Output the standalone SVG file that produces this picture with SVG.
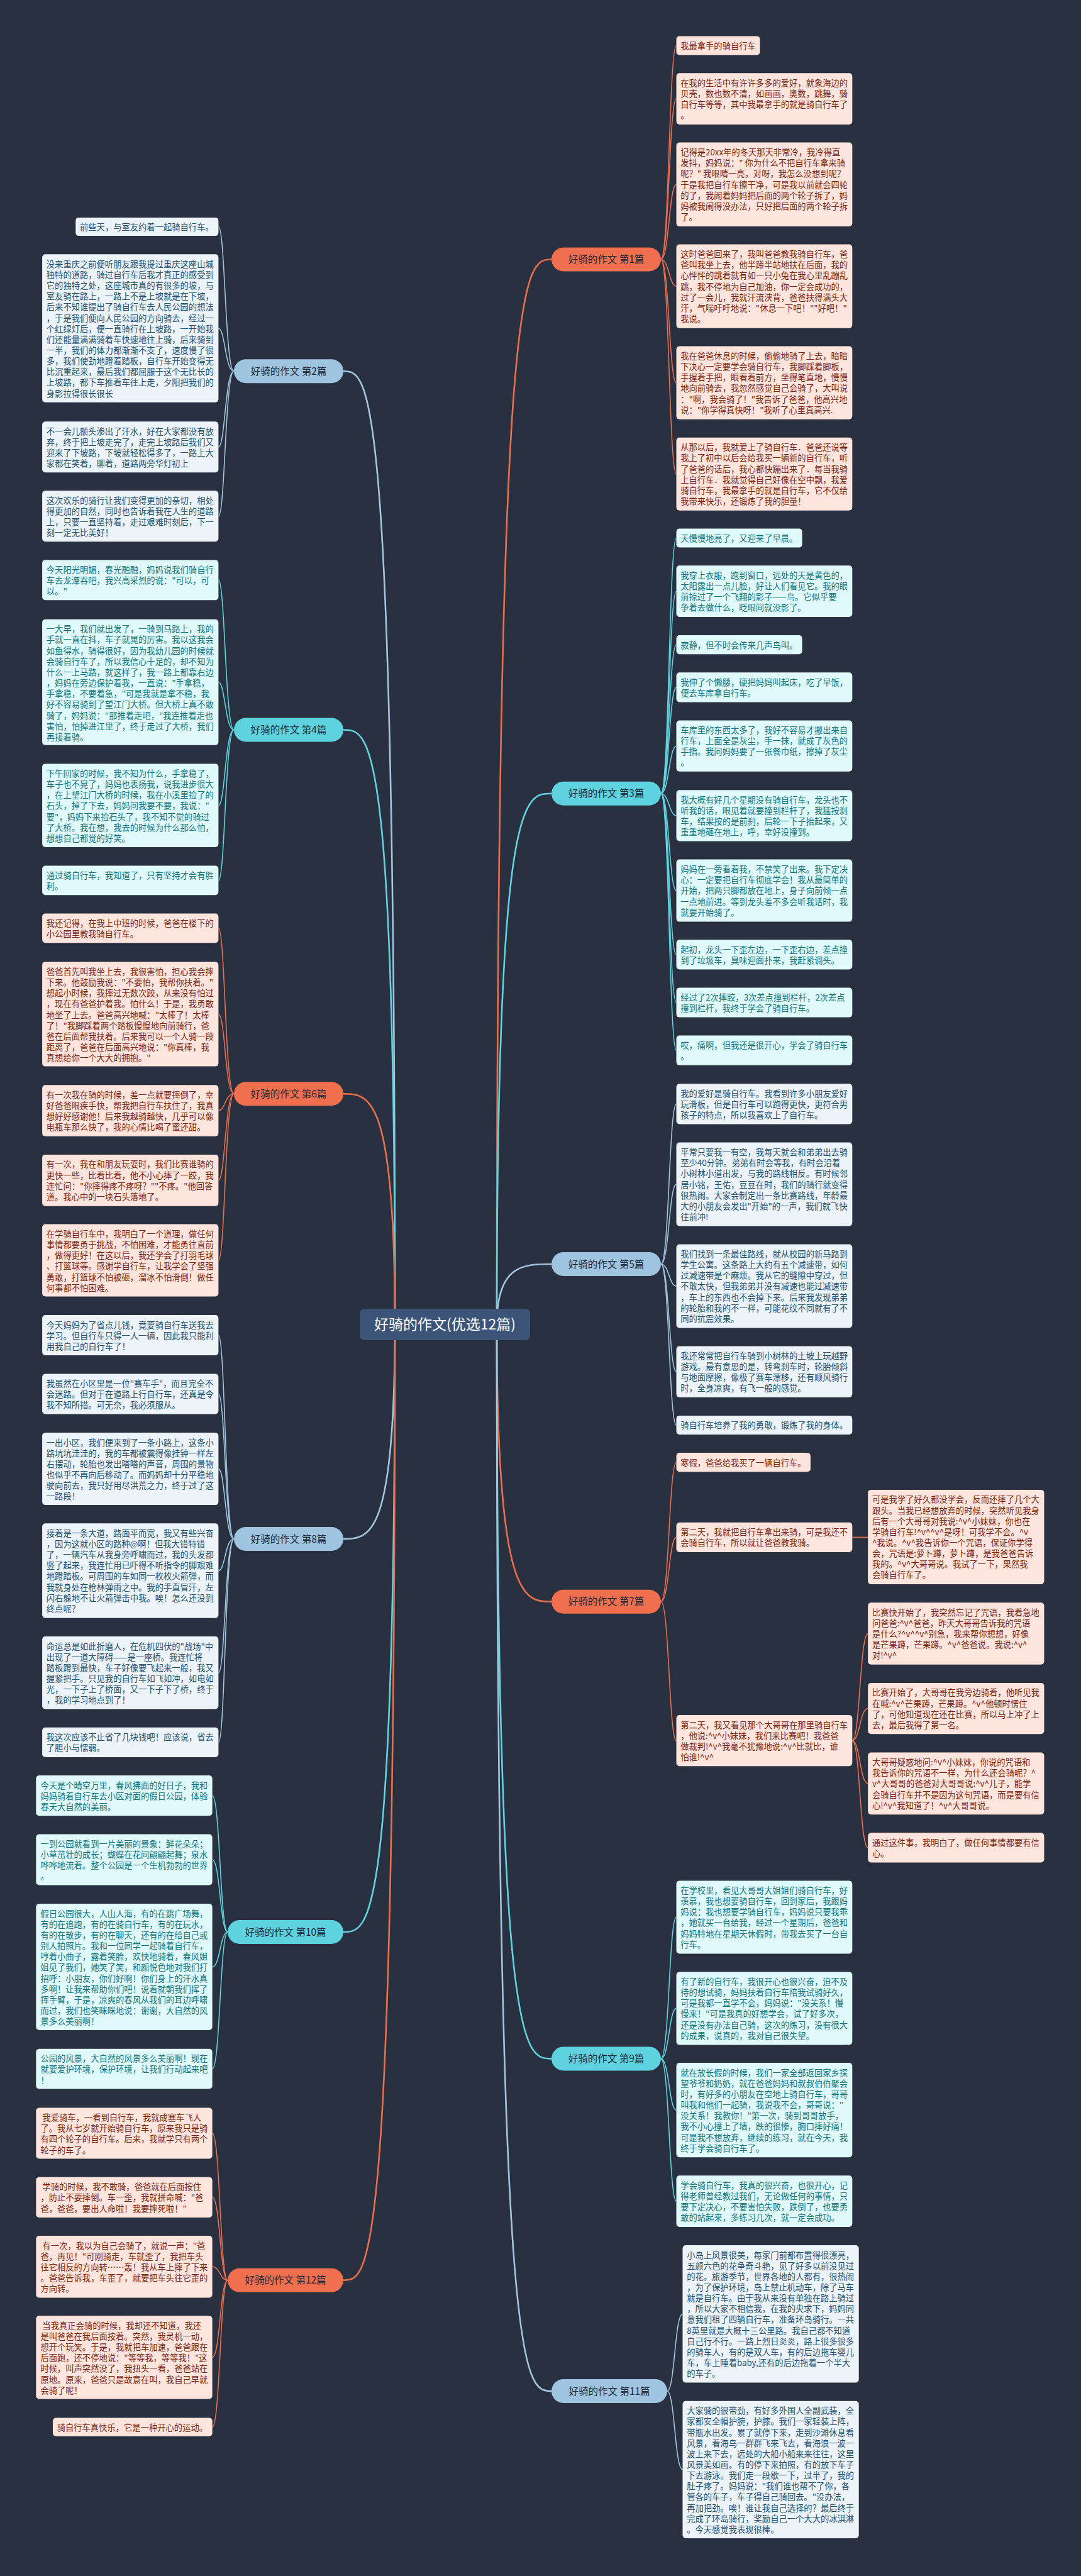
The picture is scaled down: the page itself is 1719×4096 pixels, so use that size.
<svg xmlns="http://www.w3.org/2000/svg" width="1719" height="4096" viewBox="0 0 1719 4096">
<style>
text{font-family:"Noto Sans CJK SC","Noto Sans",sans-serif;font-size:13.3px}
.o rect{fill:#fde4dc}.o text{fill:#7a2410}
.t rect{fill:#e0f9fb}.t text{fill:#0e7580}
.b rect{fill:#ecf3f9}.b text{fill:#22506f}
.n text{font-size:15.5px;text-anchor:middle;fill:#1f2a38}
.no rect{fill:#ef6f4f}.nt rect{fill:#5ed2df}.nb rect{fill:#9ec4df}
#links path{fill:none;stroke-width:1.6}
#links .m{stroke-width:2.6}
.co{stroke:#e9704f}.ct{stroke:#63d3e0}.cb{stroke:#a3c6e0}
</style>
<rect width="1719" height="4096" fill="#29303f"/>
<g id="links">
<path class="co m" d="M790,2106 C790,412.5 833.5,412.5 877,412.5"/>
<path class="ct m" d="M790,2106 C790,1261.7 833.5,1261.7 877,1261.7"/>
<path class="cb m" d="M790,2106 C790,2010 833.5,2010 877,2010"/>
<path class="co m" d="M790,2106 C790,2546.7 833.5,2546.7 877,2546.7"/>
<path class="ct m" d="M790,2106 C790,3273.4 833.5,3273.4 877,3273.4"/>
<path class="cb m" d="M790,2106 C790,3802 833.5,3802 877,3802"/>
<path class="cb m" d="M628,2106 C628,590.3 587,590.3 546,590.3"/>
<path class="ct m" d="M628,2106 C628,1160.5 587,1160.5 546,1160.5"/>
<path class="co m" d="M628,2106 C628,1739.3 587,1739.3 546,1739.3"/>
<path class="cb m" d="M628,2106 C628,2447 587,2447 546,2447"/>
<path class="ct m" d="M628,2106 C628,3072 587,3072 546,3072"/>
<path class="co m" d="M628,2106 C628,3625.7 587,3625.7 546,3625.7"/>
<!-- right 1 -->
<path class="co" d="M1051,412.5 C1064,412.5 1064,72.5 1075.5,72.5"/>
<path class="co" d="M1051,412.5 C1064,412.5 1064,157.1 1075.5,157.1"/>
<path class="co" d="M1051,412.5 C1064,412.5 1064,293.3 1075.5,293.3"/>
<path class="co" d="M1051,412.5 C1064,412.5 1064,455.2 1075.5,455.2"/>
<path class="co" d="M1051,412.5 C1064,412.5 1064,608.6 1075.5,608.6"/>
<path class="co" d="M1051,412.5 C1064,412.5 1064,753.8 1075.5,753.8"/>
<!-- right 3 -->
<path class="ct" d="M1051,1261.7 C1064,1261.7 1064,855.5 1075.5,855.5"/>
<path class="ct" d="M1051,1261.7 C1064,1261.7 1064,940.2 1075.5,940.2"/>
<path class="ct" d="M1051,1261.7 C1064,1261.7 1064,1025.2 1075.5,1025.2"/>
<path class="ct" d="M1051,1261.7 C1064,1261.7 1064,1092.9 1075.5,1092.9"/>
<path class="ct" d="M1051,1261.7 C1064,1261.7 1064,1186.2 1075.5,1186.2"/>
<path class="ct" d="M1051,1261.7 C1064,1261.7 1064,1296.9 1075.5,1296.9"/>
<path class="ct" d="M1051,1261.7 C1064,1261.7 1064,1416.1 1075.5,1416.1"/>
<path class="ct" d="M1051,1261.7 C1064,1261.7 1064,1517.9 1075.5,1517.9"/>
<path class="ct" d="M1051,1261.7 C1064,1261.7 1064,1594.1 1075.5,1594.1"/>
<path class="ct" d="M1051,1261.7 C1064,1261.7 1064,1670.2 1075.5,1670.2"/>
<!-- right 5 -->
<path class="cb" d="M1051,2010 C1064,2010 1064,1755.4 1075.5,1755.4"/>
<path class="cb" d="M1051,2010 C1064,2010 1064,1883.1 1075.5,1883.1"/>
<path class="cb" d="M1051,2010 C1064,2010 1064,2045 1075.5,2045"/>
<path class="cb" d="M1051,2010 C1064,2010 1064,2181.1 1075.5,2181.1"/>
<path class="cb" d="M1051,2010 C1064,2010 1064,2266 1075.5,2266"/>
<!-- right 7 -->
<path class="co" d="M1051,2546.7 C1064,2546.7 1064,2325.2 1075.5,2325.2"/>
<path class="co" d="M1051,2546.7 C1064,2546.7 1064,2444.4 1075.5,2444.4"/>
<path class="co" d="M1051,2546.7 C1064,2546.7 1064,2767.7 1075.5,2767.7"/>
<path class="co" d="M1355.3,2444.4 L1380.2,2444.4"/>
<path class="co" d="M1355.3,2767.7 C1367.4,2767.7 1367.4,2597.5 1380.2,2597.5"/>
<path class="co" d="M1355.3,2767.7 C1367.4,2767.7 1367.4,2716.6 1380.2,2716.6"/>
<path class="co" d="M1355.3,2767.7 C1367.4,2767.7 1367.4,2835.9 1380.2,2835.9"/>
<path class="co" d="M1355.3,2767.7 C1367.4,2767.7 1367.4,2937.9 1380.2,2937.9"/>
<!-- right 9 -->
<path class="ct" d="M1051,3273.4 C1064,3273.4 1064,3048.4 1075.5,3048.4"/>
<path class="ct" d="M1051,3273.4 C1064,3273.4 1064,3193.4 1075.5,3193.4"/>
<path class="ct" d="M1051,3273.4 C1064,3273.4 1064,3355.2 1075.5,3355.2"/>
<path class="ct" d="M1051,3273.4 C1064,3273.4 1064,3500.1 1075.5,3500.1"/>
<!-- right 11 -->
<path class="cb" d="M1061,3802 C1073,3802 1073,3679.3 1085.5,3679.3"/>
<path class="cb" d="M1061,3802 C1073,3802 1073,3926.8 1085.5,3926.8"/>
<!-- left 2 -->
<path class="cb" d="M372,590.3 C358,590.3 358,360.5 347.4,360.5"/>
<path class="cb" d="M372,590.3 C358,590.3 358,522 347.4,522"/>
<path class="cb" d="M372,590.3 C358,590.3 358,710.8 347.4,710.8"/>
<path class="cb" d="M372,590.3 C358,590.3 358,820.8 347.4,820.8"/>
<!-- left 4 -->
<path class="ct" d="M372,1160.5 C358,1160.5 358,922.3 347.4,922.3"/>
<path class="ct" d="M372,1160.5 C358,1160.5 358,1084.8 347.4,1084.8"/>
<path class="ct" d="M372,1160.5 C358,1160.5 358,1280.7 347.4,1280.7"/>
<path class="ct" d="M372,1160.5 C358,1160.5 358,1400 347.4,1400"/>
<!-- left 6 -->
<path class="co" d="M372,1739.3 C358,1739.3 358,1475.9 347.4,1475.9"/>
<path class="co" d="M372,1739.3 C358,1739.3 358,1612.5 347.4,1612.5"/>
<path class="co" d="M372,1739.3 C358,1739.3 358,1766 347.4,1766"/>
<path class="co" d="M372,1739.3 C358,1739.3 358,1876.8 347.4,1876.8"/>
<path class="co" d="M372,1739.3 C358,1739.3 358,2004 347.4,2004"/>
<!-- left 8 -->
<path class="cb" d="M372,2447 C358,2447 358,2123 347.4,2123"/>
<path class="cb" d="M372,2447 C358,2447 358,2216.5 347.4,2216.5"/>
<path class="cb" d="M372,2447 C358,2447 358,2335.6 347.4,2335.6"/>
<path class="cb" d="M372,2447 C358,2447 358,2497.6 347.4,2497.6"/>
<path class="cb" d="M372,2447 C358,2447 358,2659.8 347.4,2659.8"/>
<path class="cb" d="M372,2447 C358,2447 358,2770.3 347.4,2770.3"/>
<!-- left 10 -->
<path class="ct" d="M362,3072 C350,3072 350,2855.2 337.6,2855.2"/>
<path class="ct" d="M362,3072 C350,3072 350,2957 337.6,2957"/>
<path class="ct" d="M362,3072 C350,3072 350,3127.6 337.6,3127.6"/>
<path class="ct" d="M362,3072 C350,3072 350,3289.6 337.6,3289.6"/>
<!-- left 12 -->
<path class="co" d="M362,3625.7 C350,3625.7 350,3392.1 337.6,3392.1"/>
<path class="co" d="M362,3625.7 C350,3625.7 350,3493.8 337.6,3493.8"/>
<path class="co" d="M362,3625.7 C350,3625.7 350,3604.3 337.6,3604.3"/>
<path class="co" d="M362,3625.7 C350,3625.7 350,3748.4 337.6,3748.4"/>
<path class="co" d="M362,3625.7 C350,3625.7 350,3859.1 337.6,3859.1"/>
</g>

<g id="center"><rect x="572" y="2081" width="271" height="50" rx="8" fill="#3b5478"/><text x="707.5" y="2114" text-anchor="middle" style="font-size:23px" fill="#ffffff">好骑的作文(优选12篇)</text></g>

<g id="n1" class="n no"><rect x="877" y="393.5" width="174" height="38" rx="19"/><text x="964" y="418">好骑的作文 第1篇</text></g>
<g id="n3" class="n nt"><rect x="877" y="1242.7" width="174" height="38" rx="19"/><text x="964" y="1267.2">好骑的作文 第3篇</text></g>
<g id="n5" class="n nb"><rect x="877" y="1991" width="174" height="38" rx="19"/><text x="964" y="2015.5">好骑的作文 第5篇</text></g>
<g id="n7" class="n no"><rect x="877" y="2527.7" width="174" height="38" rx="19"/><text x="964" y="2552.2">好骑的作文 第7篇</text></g>
<g id="n9" class="n nt"><rect x="877" y="3254.4" width="174" height="38" rx="19"/><text x="964" y="3278.9">好骑的作文 第9篇</text></g>
<g id="n11" class="n nb"><rect x="877" y="3783" width="184" height="38" rx="19"/><text x="969" y="3807.5">好骑的作文 第11篇</text></g>
<g id="n2" class="n nb"><rect x="372" y="571.3" width="174" height="38" rx="19"/><text x="459" y="595.8">好骑的作文 第2篇</text></g>
<g id="n4" class="n nt"><rect x="372" y="1141.5" width="174" height="38" rx="19"/><text x="459" y="1166">好骑的作文 第4篇</text></g>
<g id="n6" class="n no"><rect x="372" y="1720.3" width="174" height="38" rx="19"/><text x="459" y="1744.8">好骑的作文 第6篇</text></g>
<g id="n8" class="n nb"><rect x="372" y="2428" width="174" height="38" rx="19"/><text x="459" y="2452.5">好骑的作文 第8篇</text></g>
<g id="n10" class="n nt"><rect x="362" y="3053" width="184" height="38" rx="19"/><text x="454" y="3077.5">好骑的作文 第10篇</text></g>
<g id="n12" class="n no"><rect x="362" y="3606.7" width="184" height="38" rx="19"/><text x="454" y="3631.2">好骑的作文 第12篇</text></g>

<!-- RIGHT LEAVES -->
<g id="r1" class="o"><rect x="1075.5" y="57.4" width="133" height="30.1" rx="5"/><text x="1082.2" y="77.9">我最拿手的骑自行车</text></g>
<g id="r2" class="o"><rect x="1075.5" y="116.2" width="279.8" height="81.7" rx="5"/><text x="1082.2" y="136.7"><tspan x="1082.2">在我的生活中有许许多多的爱好，就象海边的</tspan><tspan x="1082.2" dy="17.15">贝壳，数也数不清，如画画，奥数，跳舞，骑</tspan><tspan x="1082.2" dy="17.15">自行车等等，其中我最拿手的就是骑自行车了</tspan><tspan x="1082.2" dy="17.15">。</tspan></text></g>
<g id="r3" class="o"><rect x="1075.5" y="226.6" width="279.8" height="133.3" rx="5"/><text x="1082.2" y="247.1"><tspan x="1082.2">记得是20xx年的冬天那天非常冷，我冷得直</tspan><tspan x="1082.2" dy="17.15">发抖，妈妈说：" 你为什么不把自行车拿来骑</tspan><tspan x="1082.2" dy="17.15">呢？" 我眼睛一亮，对呀，我怎么没想到呢？</tspan><tspan x="1082.2" dy="17.15">于是我把自行车擦干净，可是我以前就会四轮</tspan><tspan x="1082.2" dy="17.15">的了，我闹着妈妈把后面的两个轮子拆了，妈</tspan><tspan x="1082.2" dy="17.15">妈被我闹得没办法，只好把后面的两个轮子拆</tspan><tspan x="1082.2" dy="17.15">了。</tspan></text></g>
<g id="r4" class="o"><rect x="1075.5" y="388.6" width="279.8" height="133.2" rx="5"/><text x="1082.2" y="409.1"><tspan x="1082.2">这时爸爸回来了，我叫爸爸教我骑自行车，爸</tspan><tspan x="1082.2" dy="17.15">爸叫我坐上去，他半蹲半站地扶在后面，我的</tspan><tspan x="1082.2" dy="17.15">心怦怦的跳着就有如一只小兔在我心里乱蹦乱</tspan><tspan x="1082.2" dy="17.15">跳，我不停地为自己加油，你一定会成功的，</tspan><tspan x="1082.2" dy="17.15">过了一会儿，我就汗流浃背，爸爸扶得满头大</tspan><tspan x="1082.2" dy="17.15">汗，气喘吁吁地说："休息一下吧！""好吧！"</tspan><tspan x="1082.2" dy="17.15">我说。</tspan></text></g>
<g id="r5" class="o"><rect x="1075.5" y="550.5" width="279.8" height="116.2" rx="5"/><text x="1082.2" y="571"><tspan x="1082.2">我在爸爸休息的时候，偷偷地骑了上去，暗暗</tspan><tspan x="1082.2" dy="17.15">下决心一定要学会骑自行车，我脚踩着脚板，</tspan><tspan x="1082.2" dy="17.15">手握着手把，眼看着前方，坐得笔直地，慢慢</tspan><tspan x="1082.2" dy="17.15">地向前骑去，我忽然感觉自己会骑了，大叫说</tspan><tspan x="1082.2" dy="17.15">："啊，我会骑了！"我告诉了爸爸，他高兴地</tspan><tspan x="1082.2" dy="17.15">说："你学得真快呀！"我听了心里真高兴.</tspan></text></g>
<g id="r6" class="o"><rect x="1075.5" y="695.8" width="279.8" height="115.9" rx="5"/><text x="1082.2" y="716.3"><tspan x="1082.2">从那以后，我就爱上了骑自行车．爸爸还说等</tspan><tspan x="1082.2" dy="17.15">我上了初中以后会给我买一辆新的自行车，听</tspan><tspan x="1082.2" dy="17.15">了爸爸的话后，我心都快蹦出来了．每当我骑</tspan><tspan x="1082.2" dy="17.15">上自行车．我就觉得自己好像在空中飘，我爱</tspan><tspan x="1082.2" dy="17.15">骑自行车，我最拿手的就是自行车，它不仅给</tspan><tspan x="1082.2" dy="17.15">我带来快乐，还锻炼了我的胆量！</tspan></text></g>

<g id="r7" class="t"><rect x="1075.5" y="840.4" width="200.1" height="30.2" rx="5"/><text x="1082.2" y="860.9">天慢慢地亮了，又迎来了早晨。</text></g>
<g id="r8" class="t"><rect x="1075.5" y="899.3" width="279.8" height="81.7" rx="5"/><text x="1082.2" y="919.8"><tspan x="1082.2">我穿上衣服，跑到窗口，远处的天是黄色的，</tspan><tspan x="1082.2" dy="17.15">太阳露出一点儿脸，好让人们看见它。我的眼</tspan><tspan x="1082.2" dy="17.15">前掠过了一个飞翔的影子——鸟。它似乎要</tspan><tspan x="1082.2" dy="17.15">争着去做什么，眨眼间就没影了。</tspan></text></g>
<g id="r9" class="t"><rect x="1075.5" y="1010.1" width="200.1" height="30.1" rx="5"/><text x="1082.2" y="1030.6">寂静，但不时会传来几声鸟叫。</text></g>
<g id="r10" class="t"><rect x="1075.5" y="1069.3" width="279.8" height="47.1" rx="5"/><text x="1082.2" y="1089.8"><tspan x="1082.2">我伸了个懒腰，硬把妈妈叫起床，吃了早饭，</tspan><tspan x="1082.2" dy="17.15">便去车库拿自行车。</tspan></text></g>
<g id="r11" class="t"><rect x="1075.5" y="1145.5" width="279.8" height="81.3" rx="5"/><text x="1082.2" y="1166"><tspan x="1082.2">车库里的东西太多了，我好不容易才搬出来自</tspan><tspan x="1082.2" dy="17.15">行车，上面全是灰尘，手一抹，就成了灰色的</tspan><tspan x="1082.2" dy="17.15">手指。我问妈妈要了一张餐巾纸，擦掉了灰尘</tspan><tspan x="1082.2" dy="17.15">。</tspan></text></g>
<g id="r12" class="t"><rect x="1075.5" y="1256.2" width="279.8" height="81.3" rx="5"/><text x="1082.2" y="1276.7"><tspan x="1082.2">我大概有好几个星期没有骑自行车，龙头也不</tspan><tspan x="1082.2" dy="17.15">听我的话，眼见着就要撞到栏杆了，我猛按刹</tspan><tspan x="1082.2" dy="17.15">车，结果按的是前刹，后轮一下子抬起来，又</tspan><tspan x="1082.2" dy="17.15">重重地砸在地上，呼，幸好没撞到。</tspan></text></g>
<g id="r13" class="t"><rect x="1075.5" y="1366.6" width="279.8" height="99" rx="5"/><text x="1082.2" y="1387.1"><tspan x="1082.2">妈妈在一旁看着我，不禁笑了出来。我下定决</tspan><tspan x="1082.2" dy="17.15">心：一定要把自行车彻底学会！我从最简单的</tspan><tspan x="1082.2" dy="17.15">开始，把两只脚都放在地上，身子向前倾一点</tspan><tspan x="1082.2" dy="17.15">一点地前进。等到龙头差不多会听我话时，我</tspan><tspan x="1082.2" dy="17.15">就要开始骑了。</tspan></text></g>
<g id="r14" class="t"><rect x="1075.5" y="1494.3" width="279.8" height="47.1" rx="5"/><text x="1082.2" y="1514.8"><tspan x="1082.2">起初，龙头一下歪左边，一下歪右边，差点撞</tspan><tspan x="1082.2" dy="17.15">到了垃圾车，臭味迎面扑来，我赶紧调头。</tspan></text></g>
<g id="r15" class="t"><rect x="1075.5" y="1570.5" width="279.8" height="47.1" rx="5"/><text x="1082.2" y="1591"><tspan x="1082.2">经过了2次摔跤，3次差点撞到栏杆，2次差点</tspan><tspan x="1082.2" dy="17.15">撞到栏杆，我终于学会了骑自行车。</tspan></text></g>
<g id="r16" class="t"><rect x="1075.5" y="1646.6" width="279.8" height="47.2" rx="5"/><text x="1082.2" y="1667.1"><tspan x="1082.2">哎，痛啊，但我还是很开心，学会了骑自行车</tspan><tspan x="1082.2" dy="17.15">。</tspan></text></g>

<g id="r17" class="b"><rect x="1075.5" y="1723.2" width="279.8" height="64.3" rx="5"/><text x="1082.2" y="1743.7"><tspan x="1082.2">我的爱好是骑自行车。我看到许多小朋友爱好</tspan><tspan x="1082.2" dy="17.15">玩滑板，但是自行车可以跑得更快，更符合男</tspan><tspan x="1082.2" dy="17.15">孩子的特点，所以我喜欢上了自行车。</tspan></text></g>
<g id="r18" class="b"><rect x="1075.5" y="1816.6" width="279.8" height="132.9" rx="5"/><text x="1082.2" y="1837.1"><tspan x="1082.2">平常只要我一有空，我每天就会和弟弟出去骑</tspan><tspan x="1082.2" dy="17.15">至少40分钟。弟弟有时会等我，有时会沿着</tspan><tspan x="1082.2" dy="17.15">小树林小道出发，与我的路线相反。有时候邻</tspan><tspan x="1082.2" dy="17.15">居小铭，王佑，豆豆在时，我们的骑行就变得</tspan><tspan x="1082.2" dy="17.15">很热闹。大家会制定出一条比赛路线，年龄最</tspan><tspan x="1082.2" dy="17.15">大的小朋友会发出"开始"的一声，我们就飞快</tspan><tspan x="1082.2" dy="17.15">往前冲!</tspan></text></g>
<g id="r19" class="b"><rect x="1075.5" y="1978.5" width="279.8" height="132.9" rx="5"/><text x="1082.2" y="1999"><tspan x="1082.2">我们找到一条最佳路线，就从校园的新马路到</tspan><tspan x="1082.2" dy="17.15">学生公寓。这条路上大约有五个减速带，如何</tspan><tspan x="1082.2" dy="17.15">过减速带是个麻烦。我从它的缝隙中穿过，但</tspan><tspan x="1082.2" dy="17.15">不敢太快，但我弟弟并没有减速也能过减速带</tspan><tspan x="1082.2" dy="17.15">，车上的东西也不会掉下来。后来我发现弟弟</tspan><tspan x="1082.2" dy="17.15">的轮胎和我的不一样，可能花纹不同就有了不</tspan><tspan x="1082.2" dy="17.15">同的抗震效果。</tspan></text></g>
<g id="r20" class="b"><rect x="1075.5" y="2140.4" width="279.8" height="81.4" rx="5"/><text x="1082.2" y="2160.9"><tspan x="1082.2">我还常常把自行车骑到小树林的土坡上玩越野</tspan><tspan x="1082.2" dy="17.15">游戏。最有意思的是，转弯刹车时，轮胎倾斜</tspan><tspan x="1082.2" dy="17.15">与地面摩擦，像极了赛车漂移，还有顺风骑行</tspan><tspan x="1082.2" dy="17.15">时，全身凉爽，有飞一般的感觉。</tspan></text></g>
<g id="r21" class="b"><rect x="1075.5" y="2250.9" width="279.8" height="30.1" rx="5"/><text x="1082.2" y="2271.4">骑自行车培养了我的勇敢，锻炼了我的身体。</text></g>

<g id="r22" class="o"><rect x="1075.5" y="2310.1" width="213.4" height="30.1" rx="5"/><text x="1082.2" y="2330.6">寒假，爸爸给我买了一辆自行车。</text></g>
<g id="r23" class="o"><rect x="1075.5" y="2420.8" width="279.8" height="47.1" rx="5"/><text x="1082.2" y="2441.3"><tspan x="1082.2">第二天，我就把自行车拿出来骑，可是我还不</tspan><tspan x="1082.2" dy="17.15">会骑自行车，所以就让爸爸教我骑。</tspan></text></g>
<g id="r23c" class="o"><rect x="1380.2" y="2368.9" width="280.2" height="150.2" rx="5"/><text x="1386.9" y="2389.4"><tspan x="1386.9">可是我学了好久都没学会，反而还摔了几个大</tspan><tspan x="1386.9" dy="17.15">跟头。当我已经想放弃的时候，突然听见我身</tspan><tspan x="1386.9" dy="17.15">后有一个大哥哥对我说:^v^小妹妹，你也在</tspan><tspan x="1386.9" dy="17.15">学骑自行车!^v^^v^是呀！可我学不会。^v</tspan><tspan x="1386.9" dy="17.15">^我说。^v^我告诉你一个咒语，保证你学得</tspan><tspan x="1386.9" dy="17.15">会，咒语是:萝卜蹲，萝卜蹲，是我爸爸告诉</tspan><tspan x="1386.9" dy="17.15">我的。^v^大哥哥说。我试了一下，果然我</tspan><tspan x="1386.9" dy="17.15">会骑自行车了。</tspan></text></g>
<g id="r24" class="o"><rect x="1075.5" y="2727" width="279.8" height="81.3" rx="5"/><text x="1082.2" y="2747.5"><tspan x="1082.2">第二天，我又看见那个大哥哥在那里骑自行车</tspan><tspan x="1082.2" dy="17.15">，他说:^v^小妹妹，我们来比赛吧！我爸爸</tspan><tspan x="1082.2" dy="17.15">做裁判!^v^我毫不犹豫地说:^v^比就比，谁</tspan><tspan x="1082.2" dy="17.15">怕谁!^v^</tspan></text></g>
<g id="r24a" class="o"><rect x="1380.2" y="2548.2" width="280.2" height="98.6" rx="5"/><text x="1386.9" y="2568.7"><tspan x="1386.9">比赛快开始了，我突然忘记了咒语，我着急地</tspan><tspan x="1386.9" dy="17.15">问爸爸:^v^爸爸，昨天大哥哥告诉我的咒语</tspan><tspan x="1386.9" dy="17.15">是什么?^v^^v^别急，我来帮你想想，好像</tspan><tspan x="1386.9" dy="17.15">是芒果蹲，芒果蹲。^v^爸爸说。我说:^v^</tspan><tspan x="1386.9" dy="17.15">对!^v^</tspan></text></g>
<g id="r24b" class="o"><rect x="1380.2" y="2675.9" width="280.2" height="81.3" rx="5"/><text x="1386.9" y="2696.4"><tspan x="1386.9">比赛开始了，大哥哥在我旁边骑着，他听见我</tspan><tspan x="1386.9" dy="17.15">在喊:^v^芒果蹲，芒果蹲。^v^他顿时愣住</tspan><tspan x="1386.9" dy="17.15">了，可他知道现在还在比赛，所以马上冲了上</tspan><tspan x="1386.9" dy="17.15">去，最后我得了第一名。</tspan></text></g>
<g id="r24c" class="o"><rect x="1380.2" y="2786.6" width="280.2" height="98.6" rx="5"/><text x="1386.9" y="2807.1"><tspan x="1386.9">大哥哥疑惑地问:^v^小妹妹，你说的咒语和</tspan><tspan x="1386.9" dy="17.15">我告诉你的咒语不一样，为什么还会骑呢？^</tspan><tspan x="1386.9" dy="17.15">v^大哥哥的爸爸对大哥哥说:^v^儿子，能学</tspan><tspan x="1386.9" dy="17.15">会骑自行车并不是因为这句咒语，而是要有信</tspan><tspan x="1386.9" dy="17.15">心!^v^我知道了！^v^大哥哥说。</tspan></text></g>
<g id="r24d" class="o"><rect x="1380.2" y="2914.3" width="280.2" height="47.1" rx="5"/><text x="1386.9" y="2934.8"><tspan x="1386.9">通过这件事，我明白了，做任何事情都要有信</tspan><tspan x="1386.9" dy="17.15">心。</tspan></text></g>

<g id="r25" class="t"><rect x="1075.5" y="2990.4" width="279.8" height="116" rx="5"/><text x="1082.2" y="3010.9"><tspan x="1082.2">在学校里，看见大哥哥大姐姐们骑自行车，好</tspan><tspan x="1082.2" dy="17.15">羡慕，我也想要骑自行车，回到家后，我跟妈</tspan><tspan x="1082.2" dy="17.15">妈说：我也想要学骑自行车，妈妈说只要我乖</tspan><tspan x="1082.2" dy="17.15">，她就买一台给我，经过一个星期后，爸爸和</tspan><tspan x="1082.2" dy="17.15">妈妈特地在星期天休假时，带我去买了一台自</tspan><tspan x="1082.2" dy="17.15">行车。</tspan></text></g>
<g id="r26" class="t"><rect x="1075.5" y="3135.4" width="279.8" height="116" rx="5"/><text x="1082.2" y="3155.9"><tspan x="1082.2">有了新的自行车，我很开心也很兴奋，迫不及</tspan><tspan x="1082.2" dy="17.15">待的想试骑，妈妈扶着自行车陪我试骑好久，</tspan><tspan x="1082.2" dy="17.15">可是我都一直学不会，妈妈说："没关系！慢</tspan><tspan x="1082.2" dy="17.15">慢来！"可是我真的好想学会，试了好多次，</tspan><tspan x="1082.2" dy="17.15">还是没有办法自己骑，这次的练习，没有很大</tspan><tspan x="1082.2" dy="17.15">的成果，说真的，我对自己很失望。</tspan></text></g>
<g id="r27" class="t"><rect x="1075.5" y="3280.1" width="279.8" height="150.1" rx="5"/><text x="1082.2" y="3300.6"><tspan x="1082.2">就在放长假的时候，我们一家全部返回家乡探</tspan><tspan x="1082.2" dy="17.15">望爷爷和奶奶，就在爸爸妈妈和叔叔伯伯聚会</tspan><tspan x="1082.2" dy="17.15">时，有好多的小朋友在空地上骑自行车，哥哥</tspan><tspan x="1082.2" dy="17.15">叫我和他们一起骑，我说我不会，哥哥说："</tspan><tspan x="1082.2" dy="17.15">没关系！我教你！"第一次，骑到哥哥放手，</tspan><tspan x="1082.2" dy="17.15">我不小心撞上了墙，跌的很惨，胸口摔好痛！</tspan><tspan x="1082.2" dy="17.15">可是我不想放弃，继续的练习，就在今天，我</tspan><tspan x="1082.2" dy="17.15">终于学会骑自行车了。</tspan></text></g>
<g id="r28" class="t"><rect x="1075.5" y="3459.3" width="279.8" height="81.6" rx="5"/><text x="1082.2" y="3479.8"><tspan x="1082.2">学会骑自行车，我真的很兴奋，也很开心，记</tspan><tspan x="1082.2" dy="17.15">得老师曾经教过我们，无论做任何的事情，只</tspan><tspan x="1082.2" dy="17.15">要下定决心，不要害怕失败，跌倒了，也要勇</tspan><tspan x="1082.2" dy="17.15">敢的站起来，多练习几次，就一定会成功。</tspan></text></g>

<g id="r29" class="b"><rect x="1085.5" y="3570" width="280.2" height="218.6" rx="5"/><text x="1092.2" y="3590.5"><tspan x="1092.2">小岛上风景很美，每家门前都布置得很漂亮，</tspan><tspan x="1092.2" dy="17.15">五颜六色的花争奇斗艳，见了好多以前没见过</tspan><tspan x="1092.2" dy="17.15">的花。旅游季节，世界各地的人都有，很热闹</tspan><tspan x="1092.2" dy="17.15">，为了保护环境，岛上禁止机动车，除了马车</tspan><tspan x="1092.2" dy="17.15">就是自行车。由于我从来没有单独在路上骑过</tspan><tspan x="1092.2" dy="17.15">，所以大家不相信我，在我的央求下，妈妈同</tspan><tspan x="1092.2" dy="17.15">意我们租了四辆自行车，准备环岛骑行。一共</tspan><tspan x="1092.2" dy="17.15">8英里就是大概十三公里路。我自己都不知道</tspan><tspan x="1092.2" dy="17.15">自己行不行。一路上烈日炎炎，路上很多很多</tspan><tspan x="1092.2" dy="17.15">的骑车人，有的是双人车，有的后边拖车婴儿</tspan><tspan x="1092.2" dy="17.15">车，车上睡着baby,还有的后边拖着一个半大</tspan><tspan x="1092.2" dy="17.15">的车子。</tspan></text></g>
<g id="r30" class="b"><rect x="1085.5" y="3817.7" width="280.2" height="218.2" rx="5"/><text x="1092.2" y="3838.2"><tspan x="1092.2">大家骑的很带劲，有好多外国人全副武装，全</tspan><tspan x="1092.2" dy="17.15">家都安全帽护腕，护膝。我们一家轻装上阵，</tspan><tspan x="1092.2" dy="17.15">带瓶水出发。累了就停下来，走到沙滩休息看</tspan><tspan x="1092.2" dy="17.15">风景，看海鸟一群群飞来飞去，看海浪一波一</tspan><tspan x="1092.2" dy="17.15">波上来下去，远处的大船小船来来往往，这里</tspan><tspan x="1092.2" dy="17.15">风景美如画。有的停下来拍照，有的放下车子</tspan><tspan x="1092.2" dy="17.15">下去游泳。我们走一段歇一下，过半了，我的</tspan><tspan x="1092.2" dy="17.15">肚子疼了。妈妈说："我们谁也帮不了你，各</tspan><tspan x="1092.2" dy="17.15">管各的车子，车子得自己骑回去。"没办法，</tspan><tspan x="1092.2" dy="17.15">再加把劲。唉！谁让我自己选择的？最后终于</tspan><tspan x="1092.2" dy="17.15">完成了环岛骑行，奖励自己一个大大的冰淇淋</tspan><tspan x="1092.2" dy="17.15">。今天感觉我表现很棒。</tspan></text></g>

<!-- LEFT LEAVES -->
<g id="l1" class="b"><rect x="120.3" y="345.9" width="227.1" height="29.2" rx="5"/><text x="127" y="366">前些天，与室友约着一起骑自行车。</text></g>
<g id="l2" class="b"><rect x="67.1" y="404.3" width="280.3" height="235.4" rx="5"/><text x="73.8" y="424.8"><tspan x="73.8">没来重庆之前便听朋友跟我提过重庆这座山城</tspan><tspan x="73.8" dy="17.15">独特的道路，骑过自行车后我才真正的感受到</tspan><tspan x="73.8" dy="17.15">它的独特之处，这座城市真的有很多的坡，与</tspan><tspan x="73.8" dy="17.15">室友骑在路上，一路上不是上坡就是在下坡，</tspan><tspan x="73.8" dy="17.15">后来不知谁提出了骑自行车去人民公园的想法</tspan><tspan x="73.8" dy="17.15">，于是我们便向人民公园的方向骑去，经过一</tspan><tspan x="73.8" dy="17.15">个红绿灯后，便一直骑行在上坡路，一开始我</tspan><tspan x="73.8" dy="17.15">们还能量满满骑着车快速地往上骑，后来骑到</tspan><tspan x="73.8" dy="17.15">一半，我们的体力都渐渐不支了，速度慢了很</tspan><tspan x="73.8" dy="17.15">多，我们使劲地蹬着踏板，自行车开始变得无</tspan><tspan x="73.8" dy="17.15">比沉重起来，最后我们都屈服于这个无比长的</tspan><tspan x="73.8" dy="17.15">上坡路，都下车推着车往上走，夕阳把我们的</tspan><tspan x="73.8" dy="17.15">身影拉得很长很长</tspan></text></g>
<g id="l3" class="b"><rect x="67.1" y="670.3" width="280.3" height="80.9" rx="5"/><text x="73.8" y="690.8"><tspan x="73.8">不一会儿额头渗出了汗水，好在大家都没有放</tspan><tspan x="73.8" dy="17.15">弃，终于把上坡走完了，走完上坡路后我们又</tspan><tspan x="73.8" dy="17.15">迎来了下坡路，下坡就轻松得多了，一路上大</tspan><tspan x="73.8" dy="17.15">家都在笑着，聊着，道路两旁华灯初上</tspan></text></g>
<g id="l4" class="b"><rect x="67.1" y="780.3" width="280.3" height="80.9" rx="5"/><text x="73.8" y="800.8"><tspan x="73.8">这次欢乐的骑行让我们变得更加的亲切，相处</tspan><tspan x="73.8" dy="17.15">得更加的自然，同时也告诉着我在人生的道路</tspan><tspan x="73.8" dy="17.15">上，只要一直坚持着，走过艰难时刻后，下一</tspan><tspan x="73.8" dy="17.15">刻一定无比美好！</tspan></text></g>

<g id="l5" class="t"><rect x="67.1" y="890.4" width="280.3" height="63.8" rx="5"/><text x="73.8" y="910.9"><tspan x="73.8">今天阳光明媚，春光融融，妈妈说我们骑自行</tspan><tspan x="73.8" dy="17.15">车去龙潭吞吧，我兴高采烈的说："可以，可</tspan><tspan x="73.8" dy="17.15">以。"</tspan></text></g>
<g id="l6" class="t"><rect x="67.1" y="984.8" width="280.3" height="200" rx="5"/><text x="73.8" y="1005.3"><tspan x="73.8">一大早，我们就出发了，一骑到马路上，我的</tspan><tspan x="73.8" dy="17.15">手就一直在抖，车子就晃的厉害。我以这我会</tspan><tspan x="73.8" dy="17.15">如鱼得水，骑得很好，因为我幼儿园的时候就</tspan><tspan x="73.8" dy="17.15">会骑自行车了，所以我信心十足的，却不知为</tspan><tspan x="73.8" dy="17.15">什么一上马路，就这样了，我一路上都靠右边</tspan><tspan x="73.8" dy="17.15">，妈妈在旁边保护着我，一直说："手拿稳，</tspan><tspan x="73.8" dy="17.15">手拿稳，不要着急，"可是我就是拿不稳，我</tspan><tspan x="73.8" dy="17.15">好不容易骑到了望江门大桥。但大桥上真不敢</tspan><tspan x="73.8" dy="17.15">骑了，妈妈说："那推着走吧，"我连推着走也</tspan><tspan x="73.8" dy="17.15">害怕，怕掉进江里了，终于走过了大桥，我们</tspan><tspan x="73.8" dy="17.15">再接着骑。</tspan></text></g>
<g id="l7" class="t"><rect x="67.1" y="1214.4" width="280.3" height="132.6" rx="5"/><text x="73.8" y="1234.9"><tspan x="73.8">下午回家的时候，我不知为什么，手拿稳了，</tspan><tspan x="73.8" dy="17.15">车子也不晃了，妈妈也表扬我，说我进步很大</tspan><tspan x="73.8" dy="17.15">，在上望江门大桥的时候，我在小溪里捡了的</tspan><tspan x="73.8" dy="17.15">石头，掉了下去，妈妈问我要不要，我说："</tspan><tspan x="73.8" dy="17.15">要"，妈妈下来捡石头了，我不知不觉的骑过</tspan><tspan x="73.8" dy="17.15">了大桥。我在想，我去的时候为什么那么怕，</tspan><tspan x="73.8" dy="17.15">想想自己都觉的好笑。</tspan></text></g>
<g id="l8" class="t"><rect x="67.1" y="1376.6" width="280.3" height="46.7" rx="5"/><text x="73.8" y="1397.1"><tspan x="73.8">通过骑自行车，我知道了，只有坚持才会有胜</tspan><tspan x="73.8" dy="17.15">利。</tspan></text></g>

<g id="l9" class="o"><rect x="67.1" y="1452.5" width="280.3" height="46.8" rx="5"/><text x="73.8" y="1473"><tspan x="73.8">我还记得，在我上中班的时候，爸爸在楼下的</tspan><tspan x="73.8" dy="17.15">小公园里教我骑自行车。</tspan></text></g>
<g id="l10" class="o"><rect x="67.1" y="1529.4" width="280.3" height="166.2" rx="5"/><text x="73.8" y="1549.9"><tspan x="73.8">爸爸首先叫我坐上去，我很害怕，担心我会摔</tspan><tspan x="73.8" dy="17.15">下来。他鼓励我说："不要怕，我帮你扶着。"</tspan><tspan x="73.8" dy="17.15">想起小时候，我摔过无数次跤，从来没有怕过</tspan><tspan x="73.8" dy="17.15">，现在有爸爸护着我。怕什么！于是，我勇敢</tspan><tspan x="73.8" dy="17.15">地坐了上去。爸爸高兴地喊："太棒了！太棒</tspan><tspan x="73.8" dy="17.15">了！"我脚踩着两个踏板慢慢地向前骑行，爸</tspan><tspan x="73.8" dy="17.15">爸在后面帮我扶着。后来我可以一个人骑一段</tspan><tspan x="73.8" dy="17.15">距离了，爸爸在后面高兴地说："你真棒，我</tspan><tspan x="73.8" dy="17.15">真想给你一个大大的拥抱。"</tspan></text></g>
<g id="l11" class="o"><rect x="67.1" y="1725.3" width="280.3" height="81.4" rx="5"/><text x="73.8" y="1745.8"><tspan x="73.8">有一次我在骑的时候，差一点就要摔倒了，幸</tspan><tspan x="73.8" dy="17.15">好爸爸眼疾手快，帮我把自行车扶住了，我真</tspan><tspan x="73.8" dy="17.15">想好好感谢他！后来我越骑越快，几乎可以像</tspan><tspan x="73.8" dy="17.15">电瓶车那么快了，我的心情比喝了蜜还甜。</tspan></text></g>
<g id="l12" class="o"><rect x="67.1" y="1835.9" width="280.3" height="81.8" rx="5"/><text x="73.8" y="1856.4"><tspan x="73.8">有一次，我在和朋友玩耍时，我们比赛谁骑的</tspan><tspan x="73.8" dy="17.15">更快一些，比着比着，他不小心摔了一跤，我</tspan><tspan x="73.8" dy="17.15">连忙问："你摔得疼不疼呀？""不疼。"他回答</tspan><tspan x="73.8" dy="17.15">道。我心中的一块石头落地了。</tspan></text></g>
<g id="l13" class="o"><rect x="67.1" y="1946.5" width="280.3" height="115" rx="5"/><text x="73.8" y="1967"><tspan x="73.8">在学骑自行车中，我明白了一个道理，做任何</tspan><tspan x="73.8" dy="17.15">事情都要勇于挑战，不怕困难，才能勇往直前</tspan><tspan x="73.8" dy="17.15">，做得更好！在这以后，我还学会了打羽毛球</tspan><tspan x="73.8" dy="17.15">、打篮球等。感谢学自行车，让我学会了坚强</tspan><tspan x="73.8" dy="17.15">勇敢，打篮球不怕被砸，溜冰不怕滑倒！做任</tspan><tspan x="73.8" dy="17.15">何事都不怕困难。</tspan></text></g>

<g id="l14" class="b"><rect x="67.1" y="2091.1" width="280.3" height="63.8" rx="5"/><text x="73.8" y="2111.6"><tspan x="73.8">今天妈妈为了省点儿钱，竟要骑自行车送我去</tspan><tspan x="73.8" dy="17.15">学习。但自行车只得一人一辆，因此我只能利</tspan><tspan x="73.8" dy="17.15">用我自己的自行车了！</tspan></text></g>
<g id="l15" class="b"><rect x="67.1" y="2184.6" width="280.3" height="63.8" rx="5"/><text x="73.8" y="2205.1"><tspan x="73.8">我虽然在小区里是一位"赛车手"，而且完全不</tspan><tspan x="73.8" dy="17.15">会迷路。但对于在道路上行自行车，还真是令</tspan><tspan x="73.8" dy="17.15">我不知所措。可无奈，我必须服从。</tspan></text></g>
<g id="l16" class="b"><rect x="67.1" y="2278" width="280.3" height="115.1" rx="5"/><text x="73.8" y="2298.5"><tspan x="73.8">一出小区，我们便来到了一条小路上，这条小</tspan><tspan x="73.8" dy="17.15">路坑坑洼洼的，我的车都被震得像挂钟一样左</tspan><tspan x="73.8" dy="17.15">右摆动，轮胎也发出嗒嗒的声音，周围的景物</tspan><tspan x="73.8" dy="17.15">也似乎不再向后移动了。而妈妈却十分平稳地</tspan><tspan x="73.8" dy="17.15">驶向前去，我只好用尽洪荒之力，终于过了这</tspan><tspan x="73.8" dy="17.15">一路段！</tspan></text></g>
<g id="l17" class="b"><rect x="67.1" y="2422.3" width="280.3" height="150.5" rx="5"/><text x="73.8" y="2442.8"><tspan x="73.8">接着是一条大道，路面平而宽，我又有些兴奋</tspan><tspan x="73.8" dy="17.15">，因为这就小区的路种@啊！但我大错特错</tspan><tspan x="73.8" dy="17.15">了，一辆汽车从我身旁呼啸而过，我的头发都</tspan><tspan x="73.8" dy="17.15">竖了起来，我连忙用已吓得不听指令的脚艰难</tspan><tspan x="73.8" dy="17.15">地蹬踏板。可周围的车如同一枚枚火箭弹，而</tspan><tspan x="73.8" dy="17.15">我就身处在枪林弹雨之中。我的手直冒汗，左</tspan><tspan x="73.8" dy="17.15">闪右躲地不让火箭弹击中我。唉！怎么还没到</tspan><tspan x="73.8" dy="17.15">终点呢？</tspan></text></g>
<g id="l18" class="b"><rect x="67.1" y="2602" width="280.3" height="115.5" rx="5"/><text x="73.8" y="2622.5"><tspan x="73.8">命运总是如此折磨人，在危机四伏的"战场"中</tspan><tspan x="73.8" dy="17.15">出现了一道大障碍——是一座桥。我连忙将</tspan><tspan x="73.8" dy="17.15">踏板蹬到最快，车子好像要飞起来一般，我又</tspan><tspan x="73.8" dy="17.15">握紧把手。只见我的自行车如飞如冲，如电如</tspan><tspan x="73.8" dy="17.15">光，一下子上了桥面，又一下子下了桥，终于</tspan><tspan x="73.8" dy="17.15">，我的学习地点到了！</tspan></text></g>
<g id="l19" class="b"><rect x="67.1" y="2746.7" width="280.3" height="47.2" rx="5"/><text x="73.8" y="2767.2"><tspan x="73.8">我这次应该不止省了几块钱吧！应该说，省去</tspan><tspan x="73.8" dy="17.15">了胆小与懦弱。</tspan></text></g>

<g id="l20" class="t"><rect x="57.3" y="2823.1" width="280.3" height="64.2" rx="5"/><text x="64.4" y="2843.6"><tspan x="64.4">今天是个晴空万里，春风拂面的好日子，我和</tspan><tspan x="64.4" dy="17.15">妈妈骑着自行车去小区对面的假日公园，体验</tspan><tspan x="64.4" dy="17.15">春天大自然的美丽。</tspan></text></g>
<g id="l21" class="t"><rect x="57.3" y="2916.5" width="280.3" height="80.9" rx="5"/><text x="64.4" y="2937"><tspan x="64.4">一到公园就看到一片美丽的景象：鲜花朵朵；</tspan><tspan x="64.4" dy="17.15">小草茁壮的成长；蝴蝶在花间翩翩起舞；泉水</tspan><tspan x="64.4" dy="17.15">哗哗地流着。整个公园是一个生机勃勃的世界</tspan><tspan x="64.4" dy="17.15">。</tspan></text></g>
<g id="l22" class="t"><rect x="57.3" y="3027.1" width="280.3" height="200.9" rx="5"/><text x="64.4" y="3047.6"><tspan x="64.4">假日公园很大，人山人海，有的在跳广场舞，</tspan><tspan x="64.4" dy="17.15">有的在追跑，有的在骑自行车，有的在玩水，</tspan><tspan x="64.4" dy="17.15">有的在散步，有的在聊天，还有的在给自己或</tspan><tspan x="64.4" dy="17.15">别人拍照片。我和一位同学一起骑着自行车，</tspan><tspan x="64.4" dy="17.15">哼着小曲子，露着笑脸，欢快地骑着，春风姐</tspan><tspan x="64.4" dy="17.15">姐见了我们，她笑了笑，和颜悦色地对我们打</tspan><tspan x="64.4" dy="17.15">招呼：小朋友，你们好啊！你们身上的汗水真</tspan><tspan x="64.4" dy="17.15">多啊！让我来帮助你们吧！说着就朝我们挥了</tspan><tspan x="64.4" dy="17.15">挥手臂，于是，凉爽的春风从我们的耳边呼啸</tspan><tspan x="64.4" dy="17.15">而过，我们也笑眯眯地说：谢谢，大自然的风</tspan><tspan x="64.4" dy="17.15">景多么美丽啊！</tspan></text></g>
<g id="l23" class="t"><rect x="57.3" y="3257.7" width="280.3" height="63.8" rx="5"/><text x="64.4" y="3278.2"><tspan x="64.4">公园的风景，大自然的风景多么美丽啊！现在</tspan><tspan x="64.4" dy="17.15">就要爱护环境，保护环境，让我们行动起来吧</tspan><tspan x="64.4" dy="17.15">！</tspan></text></g>

<g id="l24" class="o"><rect x="57.3" y="3351.6" width="280.3" height="80.9" rx="5"/><text x="64.4" y="3372.1"><tspan x="64.4">&#160;我爱骑车，一看到自行车，我就成塞车飞人</tspan><tspan x="64.4" dy="17.15">了。我从七岁就开始骑自行车，原来我只是骑</tspan><tspan x="64.4" dy="17.15">有四个轮子的自行车。后来，我就学只有两个</tspan><tspan x="64.4" dy="17.15">轮子的车了。</tspan></text></g>
<g id="l25" class="o"><rect x="57.3" y="3461.7" width="280.3" height="64.2" rx="5"/><text x="64.4" y="3482.2"><tspan x="64.4">&#160;学骑的时候，我不敢骑，爸爸就在后面按住</tspan><tspan x="64.4" dy="17.15">，防止不要摔倒。车一歪，我就拼命喊："爸</tspan><tspan x="64.4" dy="17.15">爸，爸爸，要出人命啦！我要摔死啦！"</tspan></text></g>
<g id="l26" class="o"><rect x="57.3" y="3555.1" width="280.3" height="98.4" rx="5"/><text x="64.4" y="3575.6"><tspan x="64.4">&#160;有一次，我以为自己会骑了，就说一声："爸</tspan><tspan x="64.4" dy="17.15">爸，再见！"可刚骑走，车就歪了，我把车头</tspan><tspan x="64.4" dy="17.15">往它相反的方向转……轰！我从车上摔了下来</tspan><tspan x="64.4" dy="17.15">。爸爸告诉我，车歪了，就要把车头往它歪的</tspan><tspan x="64.4" dy="17.15">方向转。</tspan></text></g>
<g id="l27" class="o"><rect x="57.3" y="3682.3" width="280.3" height="132.1" rx="5"/><text x="64.4" y="3702.8"><tspan x="64.4">&#160;当我真正会骑的时候，我却还不知道，我还</tspan><tspan x="64.4" dy="17.15">是叫爸爸在我后面按着。突然，我灵机一动，</tspan><tspan x="64.4" dy="17.15">想开个玩笑。于是，我就把车加速，爸爸跟在</tspan><tspan x="64.4" dy="17.15">后面跑，还不停地说："等等我，等等我！"这</tspan><tspan x="64.4" dy="17.15">时候，叫声突然没了，我扭头一看，爸爸站在</tspan><tspan x="64.4" dy="17.15">原地。原来，爸爸只是故意在叫，我自己早就</tspan><tspan x="64.4" dy="17.15">会骑了呢！</tspan></text></g>
<g id="l28" class="o"><rect x="84" y="3844.5" width="253.6" height="29.2" rx="5"/><text x="90.7" y="3864.6">骑自行车真快乐，它是一种开心的运动。</text></g>
</svg>
